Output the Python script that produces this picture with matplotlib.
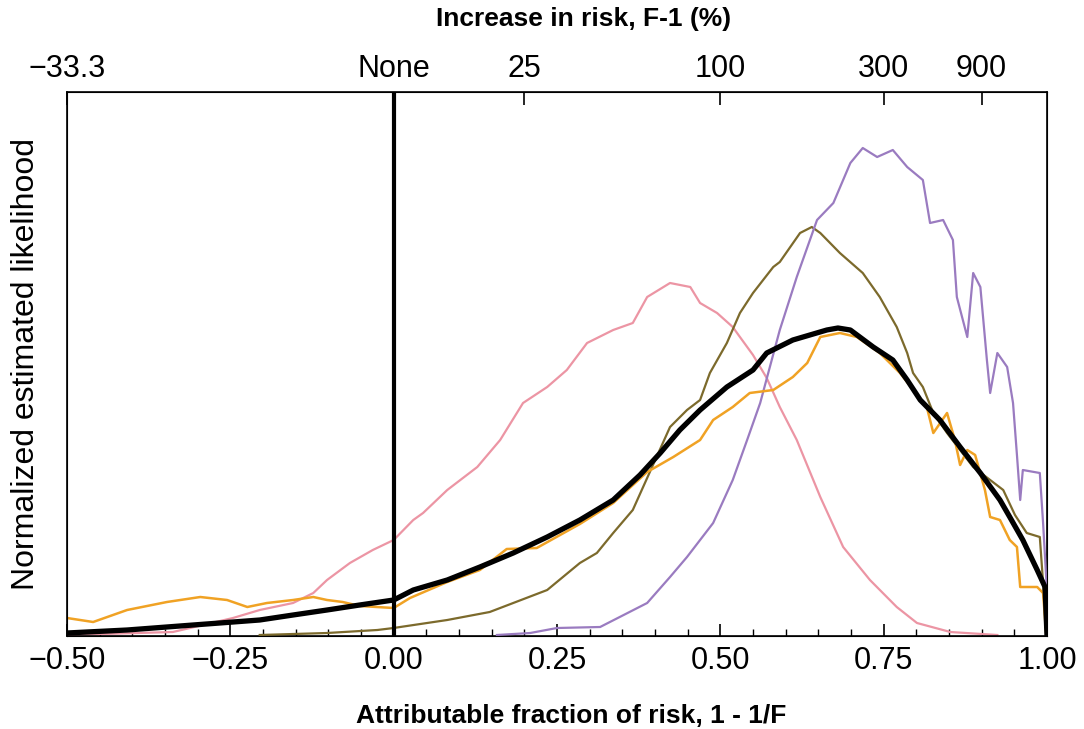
import matplotlib
matplotlib.use("Agg")
import matplotlib.pyplot as plt
import numpy as np

# ---- data ----
pink_x = [-0.5, -0.338, -0.246, -0.205, -0.154, -0.123, -0.102, -0.067, -0.032, 0.0, 0.030, 0.045,
          0.082, 0.128, 0.163, 0.198, 0.235, 0.265, 0.296, 0.336, 0.366, 0.388, 0.423, 0.454, 0.469,
          0.495, 0.519, 0.530, 0.550, 0.571, 0.591, 0.617, 0.653, 0.688, 0.729, 0.770, 0.801, 0.852, 0.924]
pink_y = [0.01, 0.04, 0.18, 0.26, 0.33, 0.43, 0.56, 0.73, 0.86, 0.96, 1.16, 1.23,
          1.46, 1.69, 1.96, 2.33, 2.49, 2.66, 2.93, 3.06, 3.13, 3.39, 3.53, 3.49, 3.33,
          3.23, 3.09, 2.99, 2.81, 2.58, 2.29, 1.96, 1.39, 0.89, 0.56, 0.29, 0.13, 0.04, 0.01]

orange_x = [-0.5, -0.460, -0.408, -0.347, -0.296, -0.255, -0.224, -0.194, -0.154, -0.123, -0.102,
            -0.078, -0.052, 0.0, 0.025, 0.082, 0.132, 0.173, 0.219, 0.285, 0.336, 0.388, 0.428,
            0.469, 0.489, 0.519, 0.545, 0.581, 0.611, 0.633, 0.653, 0.683, 0.709, 0.744, 0.775,
            0.816, 0.826, 0.847, 0.859, 0.867, 0.878, 0.890, 0.905, 0.913, 0.928, 0.943, 0.954,
            0.959, 0.985, 0.994, 0.999]
orange_y = [0.18, 0.14, 0.26, 0.34, 0.39, 0.36, 0.29, 0.33, 0.36, 0.39, 0.36,
            0.34, 0.30, 0.28, 0.38, 0.54, 0.66, 0.87, 0.88, 1.12, 1.33, 1.64, 1.79,
            1.96, 2.16, 2.29, 2.43, 2.46, 2.59, 2.73, 2.99, 3.03, 2.99, 2.83, 2.63,
            2.29, 2.03, 2.23, 1.96, 1.71, 1.86, 1.81, 1.46, 1.19, 1.16, 0.96, 0.89,
            0.49, 0.49, 0.43, 0.0]

olive_x = [-0.205, -0.102, -0.025, 0.0, 0.010, 0.082, 0.147, 0.183, 0.235, 0.285, 0.311, 0.336,
           0.366, 0.388, 0.423, 0.449, 0.469, 0.484, 0.510, 0.530, 0.550, 0.581, 0.591, 0.622,
           0.640, 0.653, 0.683, 0.718, 0.744, 0.770, 0.786, 0.795, 0.810, 0.826, 0.847, 0.887,
           0.933, 0.951, 0.969, 0.989, 0.994, 0.999]
olive_y = [0.01, 0.03, 0.06, 0.08, 0.09, 0.16, 0.24, 0.33, 0.46, 0.73, 0.83, 1.03,
           1.26, 1.58, 2.09, 2.26, 2.36, 2.63, 2.93, 3.23, 3.43, 3.69, 3.74, 4.03,
           4.09, 4.03, 3.83, 3.63, 3.39, 3.09, 2.83, 2.63, 2.49, 2.23, 2.03, 1.69,
           1.46, 1.21, 1.03, 0.99, 0.53, 0.0]

purple_x = [0.158, 0.209, 0.250, 0.316, 0.346, 0.388, 0.423, 0.449, 0.489, 0.519, 0.541, 0.561,
            0.591, 0.617, 0.648, 0.673, 0.699, 0.718, 0.740, 0.764, 0.786, 0.810, 0.821, 0.841,
            0.856, 0.862, 0.878, 0.887, 0.898, 0.908, 0.913, 0.924, 0.939, 0.948, 0.954, 0.959,
            0.963, 0.989, 0.994, 0.999, 1.0]
purple_y = [0.01, 0.03, 0.08, 0.09, 0.19, 0.33, 0.59, 0.79, 1.13, 1.56, 1.96, 2.33,
            3.06, 3.59, 4.16, 4.33, 4.73, 4.88, 4.79, 4.86, 4.69, 4.56, 4.13, 4.16,
            3.96, 3.39, 2.99, 3.63, 3.49, 2.76, 2.43, 2.83, 2.69, 2.33, 1.81, 1.36,
            1.66, 1.63, 1.13, 0.56, 0.0]

black_x = [-0.5, -0.408, -0.307, -0.205, -0.154, -0.102, -0.052, 0.0, 0.030, 0.082, 0.132, 0.183,
           0.235, 0.285, 0.336, 0.377, 0.408, 0.438, 0.469, 0.510, 0.550, 0.571, 0.611, 0.663,
           0.680, 0.699, 0.734, 0.764, 0.786, 0.806, 0.836, 0.867, 0.898, 0.928, 0.943, 0.963,
           0.985, 0.997, 1.0]
black_y = [0.03, 0.06, 0.11, 0.16, 0.21, 0.26, 0.31, 0.36, 0.46, 0.56, 0.69, 0.83,
           0.99, 1.16, 1.36, 1.61, 1.83, 2.06, 2.26, 2.49, 2.66, 2.83, 2.96, 3.06,
           3.08, 3.06, 2.89, 2.76, 2.56, 2.36, 2.16, 1.89, 1.63, 1.36, 1.19, 0.96,
           0.66, 0.49, 0.0]

bottom_ticks = [-0.50, -0.25, 0.00, 0.25, 0.50, 0.75, 1.00]
bottom_labels = ["\u22120.50", "\u22120.25", "0.00", "0.25", "0.50", "0.75", "1.00"]
top_pct = [-33.3, 0, 25, 100, 300, 900]
top_labels = ["\u221233.3", "None", "25", "100", "300", "900"]

# ---- figure ----
plt.rcParams['font.family'] = ['Liberation Sans', 'DejaVu Sans']
W, H = 1084, 729
fig = plt.figure(figsize=(W / 100, H / 100), dpi=100)
ax = fig.add_axes([67 / W, 1 - 636 / H, (1047 - 67) / W, (636 - 92) / H])

ax.plot(pink_x, pink_y, color='#ec95a4', lw=1.6, zorder=2)
ax.plot(olive_x, olive_y, color='#7c6a2c', lw=1.6, zorder=3)
ax.plot(purple_x, purple_y, color='#9a7bc0', lw=1.6, zorder=3)
ax.plot(orange_x, orange_y, color='#f0a224', lw=1.8, zorder=4)
ax.plot(black_x, black_y, color='black', lw=3.8, zorder=5, solid_capstyle='butt')
ax.axvline(0.0, color='black', lw=3.0, zorder=6)

ax.set_xlim(-0.5, 1.0)
ax.set_ylim(0, 5.44)
ax.set_yticks([])
ax.set_xticks(bottom_ticks)
ax.set_xticklabels(bottom_labels, fontsize=22)
ax.set_xticks(np.arange(-0.5, 1.0001, 0.05), minor=True)
ax.tick_params(axis='x', which='major', direction='in', length=9, width=1.2, pad=7)
ax.tick_params(axis='x', which='minor', direction='in', length=5, width=1.0)
for s in ax.spines.values():
    s.set_linewidth(1.2)

ax2 = ax.twiny()
ax2.set_xlim(ax.get_xlim())
top_pos = [1 - 1 / (1 + p / 100.0) for p in top_pct]
ax2.set_xticks(top_pos)
ax2.set_xticklabels(top_labels, fontsize=22)
ax2.tick_params(axis='x', direction='in', length=9, width=1.2, pad=6)

fig.text(571 / W, 1 - 716 / H, "Attributable fraction of risk, 1 - 1/F",
         fontsize=19, fontweight='bold', ha='center', va='center')
fig.text(584 / W, 1 - 19 / H, "Increase in risk, F-1 (%)",
         fontsize=19, fontweight='bold', ha='center', va='center')
fig.text(26 / W, 1 - 364 / H, "Normalized estimated likelihood",
         fontsize=23, rotation=90, ha='center', va='center')

fig.savefig("out.png", dpi=100, facecolor='white')
